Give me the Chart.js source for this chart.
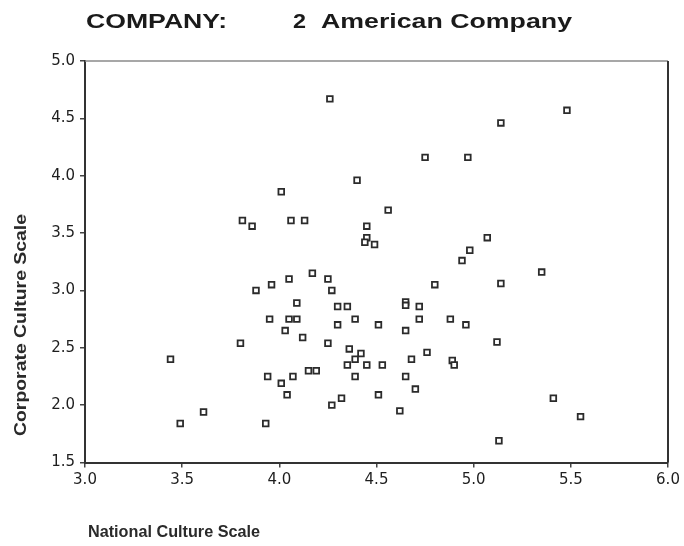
<!DOCTYPE html>
<html>
<head>
<meta charset="utf-8">
<script src="https://cdn.jsdelivr.net/npm/chart.js@4/dist/chart.umd.min.js"></script>
<style>
  html, body { margin: 0; padding: 0; background: #ffffff; }
  #wrap { width: 684px; height: 546px; position: relative; }
</style>
</head>
<body>
<div id="wrap"><canvas id="c" width="684" height="546"></canvas></div>
<script>
// National culture score (x) and corporate culture score (y) for each respondent
const nationalScale = [
  3.44, 3.61, 3.49,
  3.88, 3.96, 4.05, 4.17, 4.25, 4.27, 4.09, 4.30, 4.35, 3.95, 4.05, 4.09, 4.39, 4.30, 4.51,
  4.03, 4.12, 3.80, 4.25, 4.36, 4.42, 4.39, 4.35, 4.45, 4.15, 4.19, 3.94, 4.07, 4.01, 4.39,
  4.04, 4.32, 4.27, 3.93, 4.51,
  4.80, 5.14, 4.65, 4.65, 4.72, 4.72, 4.88, 4.96, 4.65, 5.12, 4.76, 4.68, 4.89, 4.90, 4.53,
  4.65, 4.70, 4.62, 5.13,
  4.26, 4.40, 4.01, 3.81, 3.86, 4.06, 4.13, 4.45, 4.45, 4.44, 4.49,
  5.14, 4.75, 4.97, 4.56, 5.07, 4.98, 4.94,
  5.48,
  5.35, 5.41, 5.55
];
const corporateScale = [
  2.40, 1.94, 1.84,
  3.00, 3.05, 3.10, 3.15, 3.10, 3.00, 2.89, 2.86, 2.86, 2.75, 2.75, 2.75, 2.75, 2.70, 2.70,
  2.65, 2.59, 2.54, 2.54, 2.49, 2.45, 2.40, 2.35, 2.35, 2.30, 2.30, 2.25, 2.25, 2.19, 2.25,
  2.09, 2.06, 2.00, 1.84, 2.09,
  3.05, 3.06, 2.90, 2.87, 2.86, 2.75, 2.75, 2.70, 2.65, 2.55, 2.46, 2.40, 2.39, 2.35, 2.35,
  2.25, 2.14, 1.95, 1.69,
  4.67, 3.96, 3.86, 3.61, 3.56, 3.61, 3.61, 3.56, 3.46, 3.42, 3.40,
  4.46, 4.16, 4.16, 3.70, 3.46, 3.35, 3.26,
  4.57,
  3.16, 2.06, 1.90
];
const xTicks = [3.0, 3.5, 4.0, 4.5, 5.0, 5.5, 6.0];
const yTicks = [1.5, 2.0, 2.5, 3.0, 3.5, 4.0, 4.5, 5.0];

const companyLabel = 'COMPANY:';
const companyId = '2';
const companyName = 'American Company';
const xTitle = 'National Culture Scale';
const yTitle = 'Corporate Culture Scale';

const points = nationalScale.map((x, i) => ({ x: x, y: corporateScale[i] }));

// Draw text squeezed/stretched horizontally to a given width
function fitText(ctx, text, x, y, width, font, color) {
  ctx.save();
  ctx.font = font;
  ctx.fillStyle = color;
  ctx.textBaseline = 'middle';
  ctx.textAlign = 'left';
  const w = ctx.measureText(text).width;
  ctx.translate(x, y);
  ctx.scale(width / w, 1);
  ctx.fillText(text, 0, 0);
  ctx.restore();
}

const framePlugin = {
  id: 'frame',
  afterDraw(chart) {
    const ctx = chart.ctx;
    const a = chart.chartArea;
    ctx.save();
    // top and right edges of the plot frame
    ctx.strokeStyle = '#8a8a8a';
    ctx.lineWidth = 1.5;
    ctx.beginPath();
    ctx.moveTo(a.left, a.top);
    ctx.lineTo(a.right, a.top);
    ctx.stroke();
    ctx.strokeStyle = '#333333';
    ctx.lineWidth = 2;
    ctx.beginPath();
    ctx.moveTo(a.right, a.top);
    ctx.lineTo(a.right, a.bottom);
    ctx.stroke();
    ctx.restore();

    // heading
    const hf = 'bold 21px "Liberation Sans", Arial, sans-serif';
    fitText(ctx, companyLabel, 86, 22, 141, hf, '#1a1a1a');
    fitText(ctx, companyId, 293, 22, 13, hf, '#1a1a1a');
    fitText(ctx, companyName, 321, 22, 251, hf, '#1a1a1a');

    // axis titles
    const af = 'bold 16px "Liberation Sans", Arial, sans-serif';
    fitText(ctx, xTitle, 88, 533, 172, af, '#2a2a2a');
    ctx.save();
    ctx.translate(22, 436);
    ctx.rotate(-Math.PI / 2);
    fitText(ctx, yTitle, 0, 0, 222, af, '#2a2a2a');
    ctx.restore();
  }
};

new Chart(document.getElementById('c'), {
  type: 'scatter',
  data: {
    datasets: [{
      data: points,
      pointStyle: 'rect',
      pointRadius: 4,
      pointBorderWidth: 1.8,
      borderColor: '#2b2b2b',
      backgroundColor: '#ffffff',
      pointBackgroundColor: '#ffffff',
      pointBorderColor: '#2b2b2b'
    }]
  },
  options: {
    responsive: false,
    animation: false,
    devicePixelRatio: 1,
    layout: { padding: { top: 61, right: 16, left: 0, bottom: 0 } },
    plugins: { legend: { display: false }, tooltip: { enabled: false }, title: { display: false } },
    scales: {
      x: {
        type: 'linear',
        min: xTicks[0],
        max: xTicks[xTicks.length - 1],
        afterBuildTicks: s => { s.ticks = xTicks.map(v => ({ value: v })); },
        afterFit: s => { s.height = 83.5; },
        ticks: {
          callback: v => Number(v).toFixed(1),
          color: '#1e1e1e',
          font: { family: '"DejaVu Sans", sans-serif', size: 15 },
          padding: 4,
          maxRotation: 0,
          autoSkip: false
        },
        grid: { drawOnChartArea: false, drawTicks: true, tickLength: 5, color: '#444', lineWidth: 1.5 },
        border: { display: true, color: '#333', width: 2 }
      },
      y: {
        type: 'linear',
        min: yTicks[0],
        max: yTicks[yTicks.length - 1],
        afterBuildTicks: s => { s.ticks = yTicks.map(v => ({ value: v })); },
        afterFit: s => { s.width = 85; },
        ticks: {
          callback: v => Number(v).toFixed(1),
          color: '#1e1e1e',
          font: { family: '"DejaVu Sans", sans-serif', size: 15 },
          padding: 5,
          autoSkip: false
        },
        grid: { drawOnChartArea: false, drawTicks: true, tickLength: 5, color: '#444', lineWidth: 1.5 },
        border: { display: true, color: '#333', width: 2 }
      }
    }
  },
  plugins: [framePlugin]
});
</script>
</body>
</html>
